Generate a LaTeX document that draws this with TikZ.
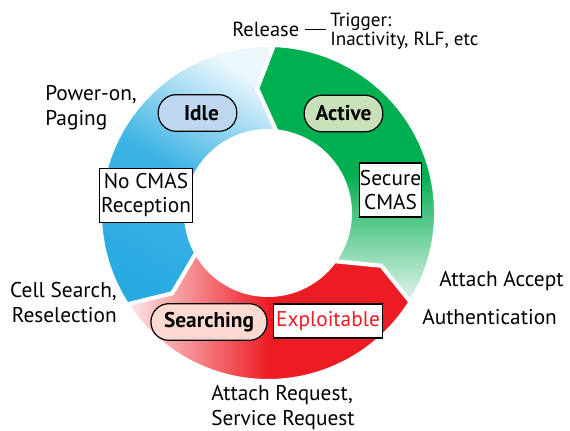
\documentclass[tikz,border=0pt]{standalone}
\usepackage{fontspec}
\setmainfont{PT Sans}
\usetikzlibrary{positioning}
\definecolor{actgreen}{RGB}{0,176,80}
\definecolor{actfade}{RGB}{228,244,238}
\definecolor{idleblue}{RGB}{41,171,226}
\definecolor{idlefade}{RGB}{236,247,252}
\definecolor{searchred}{RGB}{237,28,36}
\definecolor{searchfade}{RGB}{252,232,232}
\definecolor{idlefill}{RGB}{189,215,238}
\definecolor{actfill}{RGB}{200,225,185}
\definecolor{searchfill}{RGB}{252,218,210}
\newcommand{\ringseg}[2]{(#1+2:168) arc[start angle=#1+2, end angle=#2+2, radius=168]
  -- (#2+9:125) -- (#2-2:82) arc[start angle=#2-2, end angle=#1-2, radius=82]
  -- (#1+9:125) -- cycle}

\begin{document}
\begin{tikzpicture}[x=0.75pt, y=0.75pt,
    ring/.style={draw=white, line width=3pt},
    pill/.style={draw, line width=0.9pt, rounded corners=13.5pt, minimum height=27.5pt, inner sep=0pt, font=\fontsize{16}{19}\selectfont\bfseries},
    box/.style={draw, fill=white, line width=0.8pt, align=center, inner sep=0pt, font=\fontsize{16}{18}\selectfont},
    tag/.style={inner sep=0pt, font=\fontsize{16}{18.75}\selectfont}
]
\useasboundingbox (0,0) rectangle (570,430);

\begin{scope}[shift={(268,217)}]
\shadedraw[ring, top color=actgreen, bottom color=actfade, middle color=actgreen] \ringseg{-34}{86};
\shadedraw[ring, top color=idlefade, bottom color=idleblue, middle color=idleblue!90!white, shading angle=-30] \ringseg{86}{211};
\shadedraw[ring, left color=searchfade, right color=searchred, middle color=searchred] \ringseg{211}{326};
\end{scope}

\node[pill, fill=idlefill, minimum width=59pt] (idle) at (197.5,317) {\hspace{6pt}Idle};
\node[pill, fill=actfill, minimum width=59pt] (active) at (343.5,316.5) {Active};
\node[pill, fill=searchfill, minimum width=87pt] (searching) at (209,108) {Searching};

\node[box, minimum width=70pt, minimum height=41pt] (nocmas) at (146,234.5) {No CMAS\\Reception};
\node[box, minimum width=47pt, minimum height=40.5pt] (secure) at (390.5,240) {Secure\\CMAS};
\node[box, minimum width=82pt, minimum height=25.5pt, text=searchred] (exploit) at (328,109) {Exploitable};

\node[tag, anchor=north west, font=\fontsize{15.3}{18}\selectfont] (release) at (232,408) {Release};
\node[tag, anchor=north west, align=left, font=\fontsize{14.3}{14.25}\selectfont] (trigger) at (330,417) {Trigger:\\Inactivity, RLF, etc};
\draw[line width=0.8pt, shorten <=4.5pt, shorten >=3pt] (release.east) -- (release.east -| trigger.west);

\node[tag, anchor=north west, align=left] (poweron) at (45,345) {Power-on,\\Paging};
\node[tag, anchor=north east, align=right] (cellsearch) at (117,148) {Cell Search,\\Reselection};
\node[tag, anchor=north west, align=left] (attachreq) at (211,45) {Attach Request,\\Service Request};
\node[tag, anchor=north west] (attachacc) at (439,159) {Attach Accept};
\node[tag, anchor=north west] (auth) at (422,121) {Authentication};
\end{tikzpicture}
\end{document}
